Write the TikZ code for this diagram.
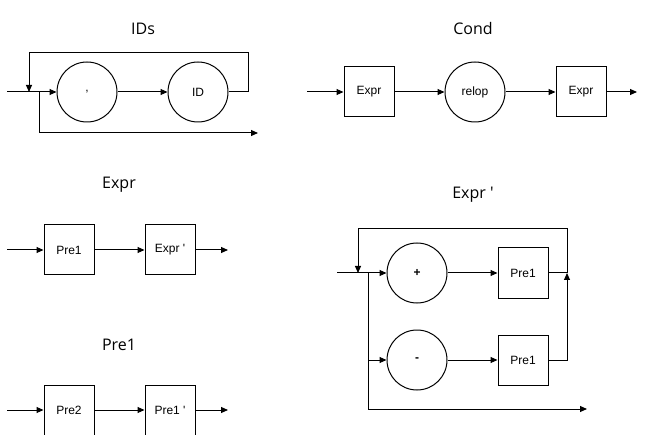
\documentclass[tikz,border=0pt]{standalone}
\usepackage{fontspec}
\setmainfont{Liberation Sans}
\newfontfamily\titlefont{Open Sans}
\usetikzlibrary{arrows.meta, positioning}

\begin{document}
\begin{tikzpicture}[
    x=1pt, y=-1pt,
    line width=1pt,
    node distance=50pt,
    arr/.style={-{Triangle[length=7pt,width=6pt]}},
    circ/.style={draw, circle, minimum size=60pt, inner sep=0pt, font=\fontsize{12}{14}\selectfont},
    box/.style={draw, minimum size=50pt, inner sep=0pt, font=\fontsize{12}{14}\selectfont},
    title/.style={font=\titlefont\fontsize{16}{19}\selectfont}
]
    \useasboundingbox (0,0) rectangle (647,435);

    % IDs
    \node[title] (t-ids) at (143,29) {IDs};
    \node[circ] (comma) at (87,92) {,};
    \node[circ, right=of comma] (idn) {ID};
    \coordinate (ids-in) at (7,92);
    \coordinate (ids-join) at (29,92);
    \coordinate (ids-split) at (39,92);
    \coordinate (ids-loop) at (248,53);
    \coordinate (ids-out) at (258,133);

    \draw[arr] (ids-in) -- (comma);
    \draw[arr] (comma) -- (idn);
    \draw[arr] (idn.east) -| (ids-loop) -| (ids-join);
    \draw[arr] (ids-split) |- (ids-out);

    % Cond
    \node[title] (t-cond) at (473,29) {Cond};
    \node[box] (expr1) at (369,92) {Expr};
    \node[circ, right=of expr1] (relop) {relop};
    \node[box, right=of relop] (expr2) {Expr};
    \coordinate (cond-in) at (307,92);
    \coordinate (cond-out) at (637,92);

    \draw[arr] (cond-in) -- (expr1);
    \draw[arr] (expr1) -- (relop);
    \draw[arr] (relop) -- (expr2);
    \draw[arr] (expr2) -- (cond-out);

    % Expr
    \node[title] (t-expr) at (119,185) {Expr};
    \node[box] (pre1) at (69,250) {Pre1};
    \node[box, right=of pre1] (exprp) {Expr \textquotesingle};
    \coordinate (expr-in) at (7,250);
    \coordinate (expr-out) at (228,250);

    \draw[arr] (expr-in) -- (pre1);
    \draw[arr] (pre1) -- (exprp);
    \draw[arr] (exprp) -- (expr-out);

    % Pre1
    \node[title] (t-pre1) at (119,345) {Pre1};
    \node[box] (pre2) at (69,410) {Pre2};
    \node[box, right=of pre2] (pre1p) {Pre1 \textquotesingle};
    \coordinate (pre-in) at (7,410);
    \coordinate (pre-out) at (228,410);

    \draw[arr] (pre-in) -- (pre2);
    \draw[arr] (pre2) -- (pre1p);
    \draw[arr] (pre1p) -- (pre-out);

    % Expr '
    \node[title] (t-exprp) at (473,195) {Expr \textquotesingle};
    \node[circ] (plus) at (417,273) {\bfseries +};
    \node[circ, below=26pt of plus] (minus) {\bfseries -};
    \node[box, right=of plus] (pre1a) {Pre1};
    \node[box, right=of minus] (pre1b) {Pre1};
    \coordinate (ep-in) at (337,273);
    \coordinate (ep-back) at (358,273);
    \coordinate (ep-split) at (368,273);
    \coordinate (ep-join) at (567,273);
    \coordinate (ep-top) at (567,229);
    \coordinate (ep-out) at (587,409);

    \draw[arr] (ep-in) -- (plus);
    \draw[arr] (ep-split) |- (minus);
    \draw[arr] (ep-split) |- (ep-out);
    \draw[arr] (plus) -- (pre1a);
    \draw[arr] (minus) -- (pre1b);
    \draw (pre1a) -- (ep-join);
    \draw[arr] (pre1b) -| (ep-join);
    \draw[arr] (ep-join) -- (ep-top) -| (ep-back);

\end{tikzpicture}
\end{document}
